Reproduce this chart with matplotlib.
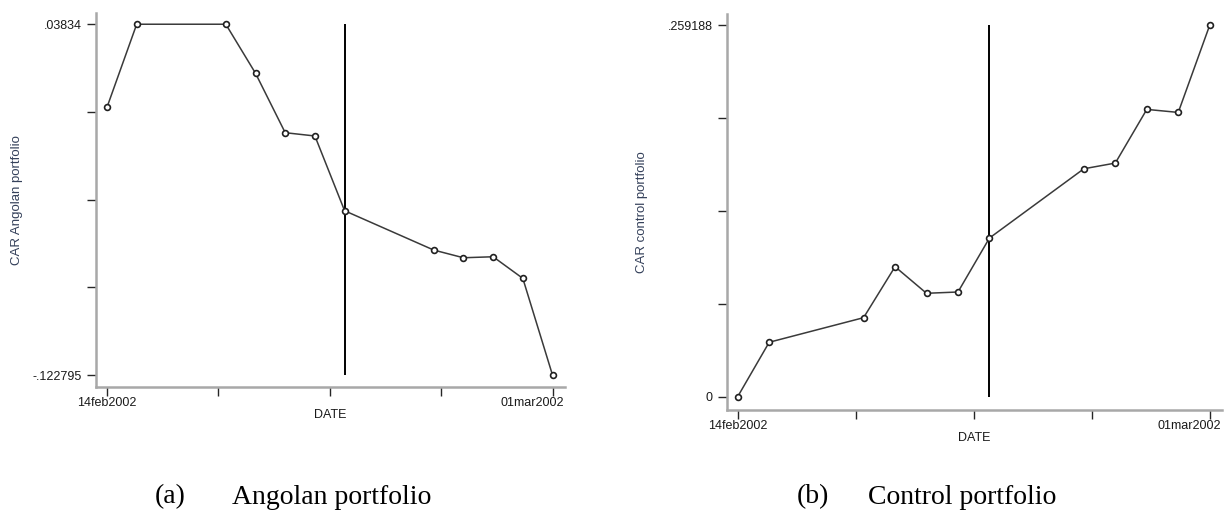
import matplotlib
matplotlib.use('Agg')
import matplotlib.pyplot as plt
import matplotlib.dates as mdates
import matplotlib.transforms as mtransforms
import numpy as np
import pandas as pd

# ---------------- data ----------------
dates = ['2002-02-14', '2002-02-15', '2002-02-18', '2002-02-19', '2002-02-20',
         '2002-02-21', '2002-02-22', '2002-02-25', '2002-02-26', '2002-02-27',
         '2002-02-28', '2002-03-01']
car_angolan = [0.00020, 0.03834, 0.03834, 0.01583, -0.01147, -0.01298,
               -0.04731, -0.06536, -0.06890, -0.06844, -0.07837, -0.122795]
car_control = [0.0, 0.03793, 0.05509, 0.09065, 0.07210, 0.07300,
               0.11066, 0.15898, 0.16296, 0.20040, 0.19830, 0.259188]
event_date = '2002-02-22'
x_tick_labels = ['14feb2002', '', '', '', '01mar2002']
y_labels = ['CAR Angolan portfolio', 'CAR control portfolio']
x_label = 'DATE'
captions = [('(a)', 'Angolan portfolio'), ('(b)', 'Control portfolio')]

# ---------------- figure ----------------
W, H = 1228, 520
fig = plt.figure(figsize=(W / 100, H / 100), dpi=100)
fig.patch.set_facecolor('white')

SANS = ['Liberation Sans', 'DejaVu Sans']
SERIF = ['Liberation Serif', 'DejaVu Serif']
TXT = '#1a1a1a'
YLAB = '#34405a'


def px_axes(x0, x1, ytop, ybot):
    return fig.add_axes([x0 / W, 1 - ybot / H, (x1 - x0) / W, (ybot - ytop) / H])


def fmt(v):
    s = '%g' % v
    return s.replace('0.', '.', 1) if s.startswith(('0.', '-0.')) else s


x = mdates.date2num(pd.to_datetime(dates))
xe = mdates.date2num(pd.to_datetime(event_date))

panels = [
    dict(vals=car_angolan, box=(96, 565, 13, 386.7), xpad=(0.37, 0.42),
         ypad=(0.033, 0.032), ylab=y_labels[0], ylab_x=17),
    dict(vals=car_control, box=(726.7, 1222, 14, 410), xpad=(0.35, 0.39),
         ypad=(0.036, 0.030), ylab=y_labels[1], ylab_x=642),
]

for p in panels:
    x0, x1, yt, yb = p['box']
    ax = px_axes(x0, x1, yt, yb)
    v = np.array(p['vals'])
    vmin, vmax = v.min(), v.max()
    rng = vmax - vmin

    ax.plot(x, v, color='#3a3a3a', lw=1.1, marker='o', ms=4.2,
            mfc='white', mec='#202020', mew=1.2, zorder=3)
    ax.vlines(xe, vmin, vmax, color='black', lw=1.4, zorder=2)

    ax.set_xlim(x[0] - p['xpad'][0], x[-1] + p['xpad'][1])
    ax.set_ylim(vmin - p['ypad'][0] * rng, vmax + p['ypad'][1] * rng)

    ax.set_yticks(np.linspace(vmin, vmax, 5))
    ax.set_yticklabels([fmt(vmin), '', '', '', fmt(vmax)])
    ax.set_xticks(np.linspace(x[0], x[-1], 5))
    ax.set_xticklabels(x_tick_labels)

    for s in ['top', 'right']:
        ax.spines[s].set_visible(False)
    for s in ['left', 'bottom']:
        ax.spines[s].set_color('#a8a8a8')
        ax.spines[s].set_linewidth(1.8)

    ax.tick_params(axis='both', direction='out', length=6.5, width=1.0,
                   color='#262626', labelcolor=TXT, labelsize=9)
    ax.tick_params(axis='y', pad=3.5)
    ax.tick_params(axis='x', pad=1.0)
    for lab in ax.get_xticklabels() + ax.get_yticklabels():
        lab.set_family(SANS)

    last = ax.get_xticklabels()[-1]
    last.set_transform(last.get_transform() +
                       mtransforms.ScaledTranslation(-20 / 100, 0, fig.dpi_scale_trans))

    ax.set_ylabel(p['ylab'], family=SANS, fontsize=9.5, color=YLAB)
    ax.yaxis.label.set_verticalalignment('center')
    ax.yaxis.set_label_coords((p['ylab_x'] - x0) / (x1 - x0), 0.5)
    ax.set_xlabel(x_label, family=SANS, fontsize=9, color=TXT)
    ax.xaxis.label.set_verticalalignment('center')
    ax.xaxis.set_label_coords(0.5, -28.3 / (yb - yt))

# captions
cy = 1 - 497 / H
fig.text(155 / W, cy, captions[0][0], family=SERIF, fontsize=20, va='center', ha='left')
fig.text(232 / W, cy, captions[0][1], family=SERIF, fontsize=20, va='center', ha='left')
fig.text(797 / W, cy, captions[1][0], family=SERIF, fontsize=20, va='center', ha='left')
fig.text(868 / W, cy, captions[1][1], family=SERIF, fontsize=20, va='center', ha='left')

fig.savefig('out.png', dpi=100, facecolor='white')
